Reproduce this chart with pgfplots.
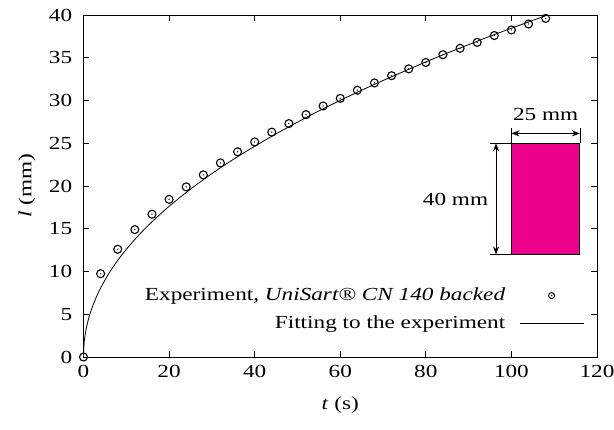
\documentclass[border=0pt]{standalone}
\usepackage{pgfplots}
\pgfplotsset{compat=1.18}
\usepackage{fontspec}
\setmainfont{Liberation Serif}[FakeStretch=1.26]
\usetikzlibrary{arrows.meta}
\definecolor{mag}{HTML}{EC008C}
\pgfdeclareplotmark{odot}{%
  \pgfpathcircle{\pgfpointorigin}{\pgfplotmarksize}\pgfusepathqstroke
  \pgfpathcircle{\pgfpointorigin}{0.75bp}\pgfusepathqfill}
\newcommand{\fs}{\fontsize{18.5}{22}\selectfont}
\begin{document}
\fs
\begin{tikzpicture}
\begin{axis}[
  scale only axis, width=513.5bp, height=342bp,
  xmin=0, xmax=120, ymin=0, ymax=40,
  xtick={0,20,...,120}, ytick={0,5,...,40},
  tick align=inside, major tick length=6bp,
  /pgf/number format/assume math mode=true,
  ticklabel style={font=\fs},
  xticklabel style={yshift=-2bp},
  yticklabel style={xshift=-5bp},
  label style={font=\fs},
  xlabel={\textit{t} (s)}, ylabel={\textit{l} (mm)},
  x label style={at={(axis description cs:0.5,-0.14)}, anchor=center},
  y label style={at={(axis description cs:-0.110,0.5)}, anchor=center},
  axis line style={line width=0.9bp},
  every tick/.style={line width=0.7bp, black},
  legend style={draw=none, fill=none, at={(0.975,0.07)}, anchor=south east,
    font=\fs, row sep=8bp, column sep=12bp, inner sep=0pt},
  legend cell align=right,
  legend plot pos=right,
  clip=false,
]
\addplot[only marks, mark=odot, mark size=4bp, line width=1.1bp,
  legend image code/.code={\draw[line width=1bp, mark=odot, mark size=3bp] plot coordinates {(32bp,0bp)};}]
coordinates {
(0,0) (4,9.74) (8,12.6) (12,14.9) (16,16.7) (20,18.44) (24,19.9) (28,21.3)
(32,22.7) (36,24.0) (40,25.15) (44,26.3) (48,27.3) (52,28.35) (56,29.36)
(60,30.25) (64,31.2) (68,32.05) (72,32.9) (76,33.7) (80,34.45) (84,35.36)
(88,36.1) (92,36.8) (96,37.6) (100,38.25) (104,38.95) (108,39.6)
};
\addlegendentry{Experiment, \textit{UniSart® CN 140 backed}}
\addplot[no marks, line width=0.8bp, smooth,
  legend image code/.code={\draw[line width=0.8bp] (0bp,0bp) -- (64bp,0bp);}]
coordinates {
(0,0) (0.05,0.964) (0.1,1.349) (0.2,1.888) (0.4,2.643) (0.7,3.466) (1,4.12)
(1.5,5.016) (2,5.766) (3,7.02) (4,8.07) (6,9.83) (8,11.30) (10,12.59)
(13,14.30) (16,15.81) (20,17.62) (25,19.63) (30,21.45) (35,23.11)
(40,24.65) (45,26.10) (50,27.47) (55,28.78) (60,30.01) (65,31.20)
(70,32.34) (75,33.43) (80,34.51) (85,35.55) (90,36.53) (95,37.52)
(100,38.45) (105,39.37) (108.5,40.0)
};
\addlegendentry{Fitting to the experiment}
% inset sketch of the strip
\draw[fill=mag, line width=0.9bp] (axis cs:100,12) rectangle (axis cs:116,25);
\draw[line width=0.7bp] (axis cs:100,25) -- (axis cs:100,26.8);
\draw[line width=0.7bp] (axis cs:116,25) -- (axis cs:116,26.8);
\draw[line width=0.8bp, {Stealth[length=8bp,width=6bp]}-{Stealth[length=8bp,width=6bp]}]
  (axis cs:100,26.15) -- (axis cs:116,26.15);
\node[inner sep=0pt] at (axis cs:108,28.4) {25 mm};
\draw[line width=0.7bp] (axis cs:94.9,25) -- (axis cs:100,25);
\draw[line width=0.7bp] (axis cs:94.9,12) -- (axis cs:100,12);
\draw[line width=0.8bp, {Stealth[length=8bp,width=6bp]}-{Stealth[length=8bp,width=6bp]}]
  (axis cs:96.4,25) -- (axis cs:96.4,12);
\node[inner sep=0pt, anchor=east] at (axis cs:94.6,18.45) {40 mm};
\end{axis}
\pgfresetboundingbox
\path[use as bounding box] (-83.5bp,-73bp) rectangle (530.5bp,357bp);
\end{tikzpicture}
\end{document}
